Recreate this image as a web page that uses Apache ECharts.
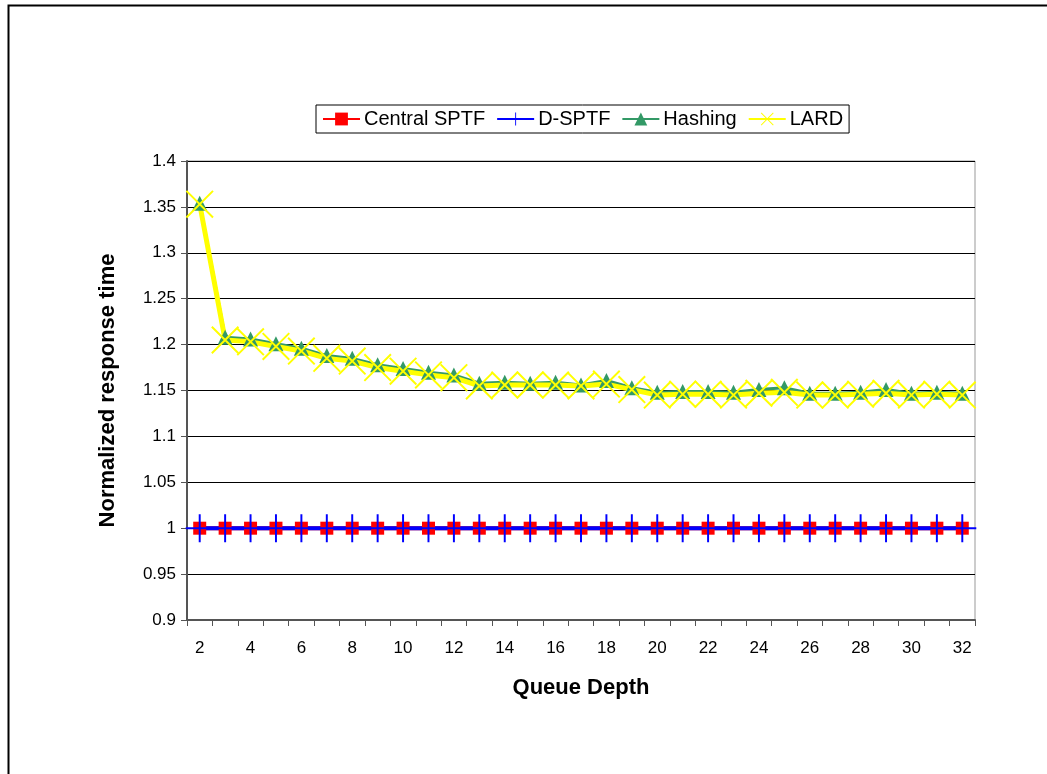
<!DOCTYPE html>
<html>
<head>
<meta charset="utf-8">
<script src="https://cdn.jsdelivr.net/npm/echarts@6/dist/echarts.min.js"></script>
<style>
html,body{margin:0;padding:0;background:#fff;}
#chart{width:1047px;height:774px;}
</style>
</head>
<body>
<div id="chart"></div>
<script>
const categories = ['2','3','4','5','6','7','8','9','10','11','12','13','14','15','16','17','18','19','20','21','22','23','24','25','26','27','28','29','30','31','32'];
const centralSPTF = [1,1,1,1,1,1,1,1,1,1,1,1,1,1,1,1,1,1,1,1,1,1,1,1,1,1,1,1,1,1,1];
const dSPTF = [1,1,1,1,1,1,1,1,1,1,1,1,1,1,1,1,1,1,1,1,1,1,1,1,1,1,1,1,1,1,1];
const hashing = [1.354,1.208,1.206,1.201,1.196,1.188,1.185,1.178,1.174,1.170,1.167,1.158,1.159,1.158,1.159,1.156,1.161,1.153,1.148,1.149,1.149,1.148,1.151,1.153,1.147,1.147,1.148,1.151,1.147,1.148,1.147];
const lard = [1.353,1.205,1.203,1.198,1.193,1.185,1.182,1.175,1.171,1.167,1.164,1.155,1.156,1.156,1.156,1.155,1.157,1.151,1.145,1.146,1.146,1.145,1.147,1.148,1.145,1.145,1.146,1.147,1.145,1.146,1.145];
const seriesNames = ['Central SPTF','D-SPTF','Hashing','LARD'];
const xAxisTitle = 'Queue Depth';
const yAxisTitle = 'Normalized response time';

const FONT = '"Liberation Sans", Arial, sans-serif';
const plusPath = 'path://M9.3,0H10.7V9.3H20V10.7H10.7V20H9.3V10.7H0V9.3H9.3Z';
const xPath = 'path://M0,1L1,0L20,19L19,20Z M19,0L20,1L1,20L0,19Z';

const chart = echarts.init(document.getElementById('chart'), null, {renderer:'canvas'});
chart.setOption({
  backgroundColor:'#fff',
  animation:false,
  graphic:[{
    type:'rect', left:6, top:3, z:-10,
    shape:{width:1200, height:900},
    style:{fill:'none', stroke:'#000', lineWidth:2}
  }],
  legend:{
    left:316, top:105,
    padding:[4,6,4,6],
    itemGap:11,
    itemWidth:37, itemHeight:16,
    borderColor:'#000', borderWidth:1,
    textStyle:{fontFamily:FONT, fontSize:20, color:'#000', padding:[0,0,0,-1]},
    data:seriesNames
  },
  grid:{left:187, right:72, top:161, bottom:154, show:true, borderColor:'#999', borderWidth:1},
  xAxis:{
    type:'category', data:categories, boundaryGap:true,
    name:xAxisTitle, nameLocation:'middle', nameGap:57,
    nameTextStyle:{fontFamily:FONT, fontSize:22, fontWeight:'bold', color:'#000'},
    axisLine:{lineStyle:{color:'#555', width:2}},
    axisTick:{show:true, interval:0, length:6, lineStyle:{color:'#555'}},
    axisLabel:{interval:1, margin:20, fontFamily:FONT, fontSize:17, color:'#000'},
    splitLine:{show:false}
  },
  yAxis:{
    type:'value', min:0.9, max:1.4, interval:0.05,
    name:yAxisTitle, nameLocation:'middle', nameGap:68, nameRotate:90,
    nameTextStyle:{fontFamily:FONT, fontSize:22, fontWeight:'bold', color:'#000'},
    axisLine:{show:true, lineStyle:{color:'#555', width:2}},
    axisTick:{show:true, length:6, lineStyle:{color:'#555'}},
    axisLabel:{margin:11, fontFamily:FONT, fontSize:17, color:'#000'},
    splitLine:{show:true, lineStyle:{color:'#000', width:1}}
  },
  series:[
    {name:seriesNames[0], type:'line', data:centralSPTF, color:'#ff0000', showAllSymbol:true,
     symbol:'rect', symbolSize:13, lineStyle:{width:4, color:'#ff0000'}, itemStyle:{color:'#ff0000'}},
    {name:seriesNames[1], type:'line', data:dSPTF, color:'#0000ff', showAllSymbol:true,
     symbol:plusPath, symbolSize:28, lineStyle:{width:4, color:'#0000ff'}, itemStyle:{color:'#0000ff'}},
    {name:seriesNames[2], type:'line', data:hashing, color:'#339966', showAllSymbol:true,
     symbol:'triangle', symbolSize:15, lineStyle:{width:3, color:'#339966'}, itemStyle:{color:'#339966'}},
    {name:seriesNames[3], type:'line', data:lard, color:'#ffff00', showAllSymbol:true,
     symbol:xPath, symbolSize:28, lineStyle:{width:5, color:'#ffff00'}, itemStyle:{color:'#ffff00'}}
  ]
});
</script>
</body>
</html>
